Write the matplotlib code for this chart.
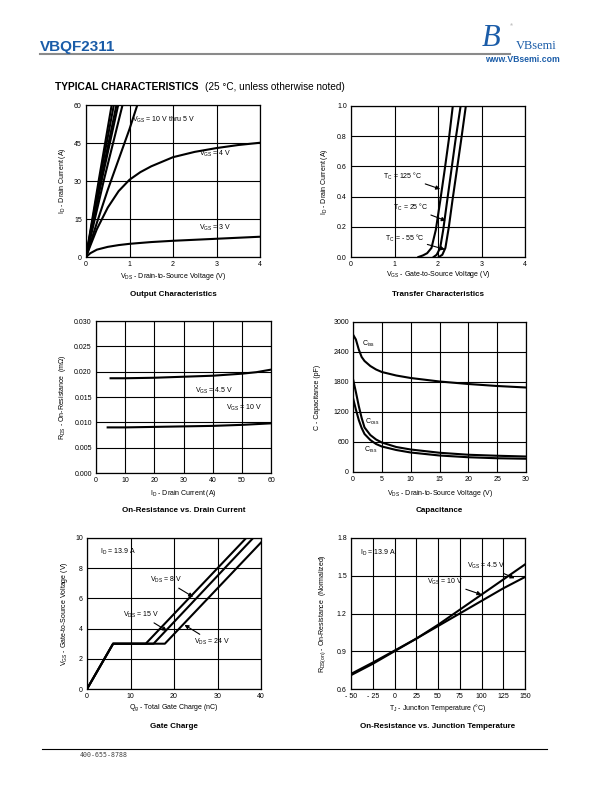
import numpy as np
import matplotlib
matplotlib.use("Agg")
import matplotlib.pyplot as plt
from matplotlib import ticker
from matplotlib.lines import Line2D

plt.rcParams['font.family'] = ['Liberation Sans', 'DejaVu Sans']
plt.rcParams['mathtext.fontset'] = 'custom'
plt.rcParams['mathtext.rm'] = 'Liberation Sans'
plt.rcParams['mathtext.it'] = 'Liberation Sans:italic'
plt.rcParams['mathtext.bf'] = 'Liberation Sans:bold'

# --- Output characteristics (ID vs VDS) ---
out_steep_vds = [[0, 0.30, 0.59], [0, 0.32, 0.64], [0, 0.35, 0.70],
                 [0, 0.37, 0.74], [0, 0.42, 0.84],
                 [0, 0.25, 0.50, 0.75, 1.00, 1.18]]
out_steep_id = [[0, 31, 60], [0, 31, 60], [0, 31, 60],
                [0, 31, 60], [0, 31, 60],
                [0, 13.5, 26.5, 38.5, 50.5, 60]]
out_vds_4v = [0, 0.1, 0.25, 0.5, 0.75, 1.0, 1.25, 1.5, 2.0, 2.5, 3.0, 3.5, 4.0]
out_id_4v = [0, 4.5, 11, 19.5, 26, 30.5, 33.5, 35.8, 39.4, 41.5, 43, 44.2, 45.1]
out_vds_3v = [0, 0.1, 0.25, 0.5, 0.75, 1.0, 1.5, 2.0, 2.5, 3.0, 3.5, 4.0]
out_id_3v = [0, 1.5, 2.9, 4.0, 4.7, 5.2, 5.9, 6.4, 6.8, 7.2, 7.6, 8.0]

# --- Transfer characteristics ---
tr_vgs_125 = [1.55, 1.65, 1.75, 1.85, 1.95, 2.05, 2.15, 2.25, 2.34]
tr_id_125 = [0, 0.01, 0.025, 0.06, 0.18, 0.37, 0.57, 0.78, 1.0]
tr_vgs_25 = [1.9, 1.97, 2.05, 2.12, 2.2, 2.3, 2.4, 2.52]
tr_id_25 = [0, 0.015, 0.06, 0.18, 0.35, 0.56, 0.77, 1.0]
tr_vgs_m55 = [2.02, 2.1, 2.17, 2.25, 2.33, 2.43, 2.53, 2.64]
tr_id_m55 = [0, 0.015, 0.06, 0.2, 0.37, 0.57, 0.77, 1.0]

# --- On-resistance vs drain current ---
rds_id_45 = [5, 10, 20, 30, 40, 50, 55, 60]
rds_45 = [0.0187, 0.0187, 0.0188, 0.0190, 0.0192, 0.0196, 0.0199, 0.0204]
rds_id_10 = [4, 10, 20, 30, 40, 50, 60]
rds_10 = [0.0090, 0.0090, 0.0091, 0.0092, 0.0093, 0.0095, 0.0098]

# --- Capacitance ---
cap_vds = [0, 0.5, 1, 1.5, 2, 3, 4, 5, 7.5, 10, 15, 20, 25, 30]
ciss = [2750, 2650, 2450, 2300, 2220, 2120, 2050, 2000, 1930, 1880, 1810, 1760, 1720, 1690]
coss = [1860, 1600, 1320, 1080, 890, 740, 650, 590, 500, 450, 385, 345, 325, 310]
crss = [1480, 1250, 1040, 880, 760, 640, 560, 510, 440, 390, 330, 295, 275, 265]

# --- Gate charge ---
qg_8v = [0, 6, 13.5, 36.6]
vgs_8v = [0, 3, 3, 10]
qg_15v = [0, 6, 15.3, 38.2]
vgs_15v = [0, 3, 3, 10]
qg_24v = [0, 6, 17.9, 40]
vgs_24v = [0, 3, 3, 9.7]

# --- On-resistance vs junction temperature ---
tj = [-50, -25, 0, 25, 50, 75, 100, 125, 150]
rn_45 = [0.72, 0.81, 0.905, 1.0, 1.11, 1.23, 1.35, 1.47, 1.59]
rn_10 = [0.71, 0.80, 0.90, 1.0, 1.10, 1.20, 1.30, 1.40, 1.49]

W, H = 612, 792
fig = plt.figure(figsize=(W / 100, H / 100), dpi=100)

TICK = 5
LAB = 5
TTL = 5.8
LW = 1.5
arrow = dict(arrowstyle='-|>', color='k', lw=0.8, mutation_scale=6, shrinkA=0, shrinkB=0)


def fx(x):
    return x / W


def fy(y):
    return 1 - y / H


def make_axes(l, t, r, b, xlim, ylim, xt, yt):
    ax = fig.add_axes([fx(l), fy(b), (r - l) / W, (b - t) / H])
    ax.set_xlim(xlim)
    ax.set_ylim(ylim)
    ax.set_xticks(xt)
    ax.set_yticks(yt)
    ax.grid(True, color='k', lw=0.8)
    ax.tick_params(length=0, pad=3, labelsize=TICK)
    for s in ax.spines.values():
        s.set_linewidth(0.9)
    return ax


def labels(ax_box, xlabel, xl_y, ylabel, yl_x, title, t_y):
    l, t, r, b = ax_box
    cx = (l + r) / 2
    fig.text(fx(cx), fy(xl_y), xlabel, ha='center', va='center', fontsize=LAB)
    fig.text(fx(yl_x), fy((t + b) / 2), ylabel, ha='center', va='center',
             rotation=90, fontsize=LAB)
    fig.text(fx(cx), fy(t_y), title, ha='center', va='center',
             fontsize=TTL, fontweight='bold')


# header
fig.text(fx(40), fy(47), 'VBQF2311', fontsize=11, fontweight='bold', color='#1a5ca8',
         ha='left', va='center')
fig.add_artist(Line2D([fx(40), fx(510)], [fy(54), fy(54)], color='#8a8a8a', lw=1.5))
fig.text(fx(491), fy(38), 'B', fontsize=22, family='Liberation Serif', style='italic',
         color='#1a5ca8', ha='center', va='center')
fig.text(fx(511), fy(25), '®', fontsize=3, color='#888888', ha='center', va='center')
fig.text(fx(536), fy(46), 'VBsemi', fontsize=9, family='Liberation Serif',
         color='#1a5ca8', ha='center', va='center')
fig.text(fx(522), fy(60), 'www.VBsemi.com', fontsize=6.2, fontweight='bold',
         color='#1a5ca8', ha='center', va='center')
t1 = fig.text(fx(55), fy(87), 'TYPICAL CHARACTERISTICS', fontsize=7.4, fontweight='bold',
              ha='left', va='center')
fig.text(fx(205), fy(87), '(25 °C, unless otherwise noted)', fontsize=7.2,
         ha='left', va='center')

# footer
fig.add_artist(Line2D([fx(42), fx(547)], [fy(749), fy(749)], color='k', lw=0.8))
fig.text(fx(80), fy(755), '400-655-8788', fontsize=4.8, family='DejaVu Sans Mono',
         color='#444444', ha='left', va='center')

# 1 Output characteristics
box = (86, 105, 260, 257)
ax = make_axes(*box, (0, 4), (0, 60), [0, 1, 2, 3, 4], [0, 15, 30, 45, 60])
for xs, ys in zip(out_steep_vds, out_steep_id):
    ax.plot(xs, ys, color='k', lw=LW)
ax.plot(out_vds_4v, out_id_4v, color='k', lw=LW)
ax.plot(out_vds_3v, out_id_3v, color='k', lw=LW)
ax.text(1.05, 54, r'V$_{\rm GS}$ = 10 V thru 5 V', fontsize=LAB, va='center')
ax.text(2.6, 40.5, r'V$_{\rm GS}$ = 4 V', fontsize=LAB, va='center')
ax.text(2.6, 11.5, r'V$_{\rm GS}$ = 3 V', fontsize=LAB, va='center')
labels(box, r'V$_{\rm DS}$ - Drain-to-Source Voltage (V)', 277,
       r'I$_{\rm D}$ - Drain Current (A)', 62, 'Output Characteristics', 294)

# 2 Transfer characteristics
box = (351, 106, 525, 257)
ax = make_axes(*box, (0, 4), (0, 1.0), [0, 1, 2, 3, 4], [0, 0.2, 0.4, 0.6, 0.8, 1.0])
ax.yaxis.set_major_formatter(ticker.FormatStrFormatter('%.1f'))
ax.plot(tr_vgs_125, tr_id_125, color='k', lw=LW)
ax.plot(tr_vgs_25, tr_id_25, color='k', lw=LW)
ax.plot(tr_vgs_m55, tr_id_m55, color='k', lw=LW)
ax.annotate(r'T$_{\rm C}$ = 125 °C', xy=(2.05, 0.45), xytext=(0.74, 0.535),
            fontsize=LAB, va='center', arrowprops=arrow)
ax.annotate(r'T$_{\rm C}$ = 25 °C', xy=(2.18, 0.24), xytext=(0.96, 0.33),
            fontsize=LAB, va='center', arrowprops=arrow)
ax.annotate(r'T$_{\rm C}$ = - 55 °C', xy=(2.16, 0.05), xytext=(0.78, 0.126),
            fontsize=LAB, va='center', arrowprops=arrow)
labels(box, r'V$_{\rm GS}$ - Gate-to-Source Voltage (V)', 275,
       r'I$_{\rm D}$ - Drain Current (A)', 325, 'Transfer Characteristics', 294)

# 3 On-resistance vs drain current
box = (96, 321, 271, 473)
ax = make_axes(*box, (0, 60), (0, 0.030), [0, 10, 20, 30, 40, 50, 60],
               [0, 0.005, 0.010, 0.015, 0.020, 0.025, 0.030])
ax.yaxis.set_major_formatter(ticker.FormatStrFormatter('%.3f'))
ax.plot(rds_id_45, rds_45, color='k', lw=LW)
ax.plot(rds_id_10, rds_10, color='k', lw=LW)
ax.text(34, 0.0163, r'V$_{\rm GS}$ = 4.5 V', fontsize=LAB, va='center')
ax.text(44.5, 0.0129, r'V$_{\rm GS}$ = 10 V', fontsize=LAB, va='center')
labels(box, r'I$_{\rm D}$ - Drain Current (A)', 493,
       r'R$_{\rm DS}$ - On-Resistance  (mΩ)', 63, 'On-Resistance vs. Drain Current', 510)

# 4 Capacitance
box = (353, 322, 526, 472)
ax = make_axes(*box, (0, 30), (0, 3000), [0, 5, 10, 15, 20, 25, 30],
               [0, 600, 1200, 1800, 2400, 3000])
ax.plot(cap_vds, ciss, color='k', lw=LW)
ax.plot(cap_vds, coss, color='k', lw=LW)
ax.plot(cap_vds, crss, color='k', lw=LW)
ax.text(1.5, 2560, r'C$_{\rm iss}$', fontsize=LAB, va='center')
ax.text(2.1, 1000, r'C$_{\rm oss}$', fontsize=LAB, va='center')
ax.text(1.85, 450, r'C$_{\rm rss}$', fontsize=LAB, va='center')
labels(box, r'V$_{\rm DS}$ - Drain-to-Source Voltage (V)', 493,
       r'C - Capacitance (pF)', 317, 'Capacitance', 510)

# 5 Gate charge
box = (87, 538, 261, 689)
ax = make_axes(*box, (0, 40), (0, 10), [0, 10, 20, 30, 40], [0, 2, 4, 6, 8, 10])
ax.plot(qg_8v, vgs_8v, color='k', lw=LW)
ax.plot(qg_15v, vgs_15v, color='k', lw=LW)
ax.plot(qg_24v, vgs_24v, color='k', lw=LW)
ax.text(3, 9.1, r'I$_{\rm D}$ = 13.9 A', fontsize=LAB, va='center')
ax.annotate(r'V$_{\rm DS}$ = 8 V', xy=(24.4, 6.1), xytext=(14.4, 7.2),
            fontsize=LAB, va='center', arrowprops=arrow)
ax.annotate(r'V$_{\rm DS}$ = 15 V', xy=(18.4, 3.85), xytext=(8.3, 4.9),
            fontsize=LAB, va='center', arrowprops=arrow)
ax.annotate(r'V$_{\rm DS}$ = 24 V', xy=(22.4, 4.25), xytext=(24.7, 3.1),
            fontsize=LAB, va='center', arrowprops=arrow)
labels(box, r'Q$_{\rm g}$ - Total Gate Charge (nC)', 708,
       r'V$_{\rm GS}$ - Gate-to-Source Voltage (V)', 65, 'Gate Charge', 726)

# 6 On-resistance vs junction temperature
box = (351, 538, 525, 689)
ax = make_axes(*box, (-50, 150), (0.6, 1.8), tj, [0.6, 0.9, 1.2, 1.5, 1.8])
ax.set_xticklabels(['- 50', '- 25', '0', '25', '50', '75', '100', '125', '150'])
ax.yaxis.set_major_formatter(ticker.FormatStrFormatter('%.1f'))
ax.plot(tj, rn_45, color='k', lw=LW)
ax.plot(tj, rn_10, color='k', lw=LW)
ax.text(-40, 1.68, r'I$_{\rm D}$ = 13.9 A', fontsize=LAB, va='center')
ax.annotate(r'V$_{\rm GS}$ = 4.5 V', xy=(138, 1.48), xytext=(83, 1.58),
            fontsize=LAB, va='center', arrowprops=arrow)
ax.annotate(r'V$_{\rm GS}$ = 10 V', xy=(100, 1.35), xytext=(37, 1.45),
            fontsize=LAB, va='center', arrowprops=arrow)
labels(box, r'T$_{\rm J}$ - Junction Temperature (°C)', 708,
       r'R$_{\rm DS(on)}$ - On-Resistance  (Normalized)', 323,
       'On-Resistance vs. Junction Temperature', 726)

fig.savefig('out.png', dpi=100)
